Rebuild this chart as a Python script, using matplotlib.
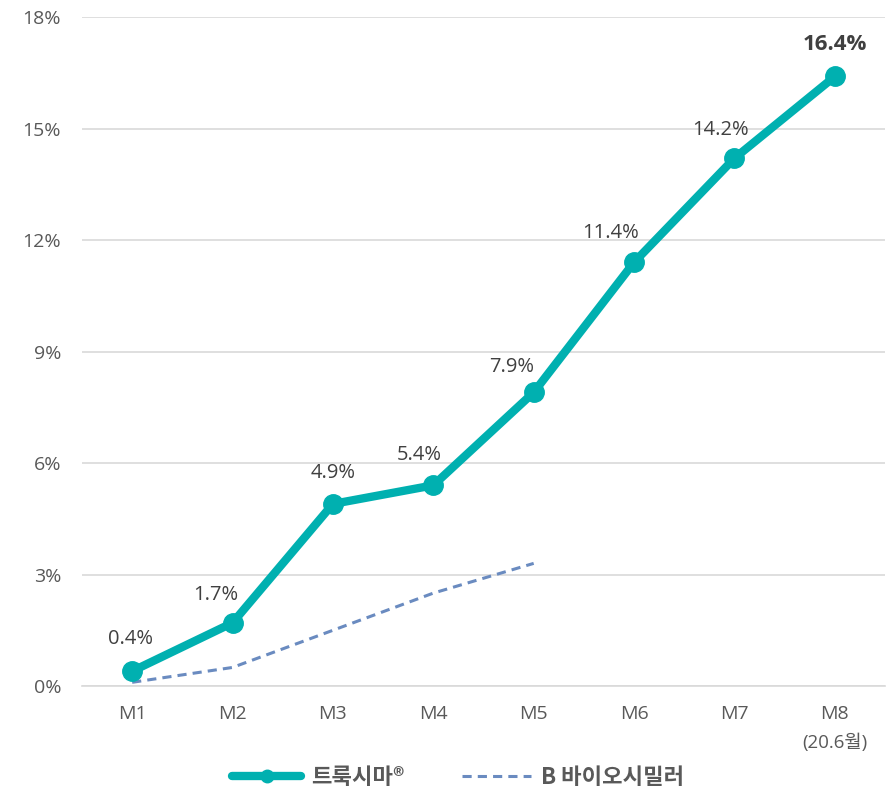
import numpy as np
import matplotlib.pyplot as plt
from matplotlib.lines import Line2D

plt.rcParams['font.family'] = ['Open Sans', 'Noto Sans CJK KR', 'DejaVu Sans']

# data
months = ["M1", "M2", "M3", "M4", "M5", "M6", "M7", "M8"]
m8_note = "(20.6월)"
truxima = [0.4, 1.7, 4.9, 5.4, 7.9, 11.4, 14.2, 16.4]
b_bio = [0.1, 0.5, 1.5, 2.5, 3.3]
y_ticks = [0, 3, 6, 9, 12, 15, 18]

# label nudges (points) so they sit like the original
nudge_x = [-1, -12, 0, -10, -16, -17, -10, 0]
nudge_y = [23, 20, 22, 22, 18, 21, 20, 23]

teal = "#00b0b0"
blue = "#6a8bc0"
grey = "#595959"

fig = plt.figure(figsize=(8.9, 7.92), dpi=100)
ax = fig.add_axes([0.0921, 0.1338, 0.9023, 0.8447])

x = np.arange(len(months))
ax.plot(x[:len(b_bio)], b_bio, color=blue, lw=2.2, ls=(0, (3, 2)), zorder=2)
ax.plot(x, truxima, color=teal, lw=6, marker="o", ms=14, zorder=3,
        solid_capstyle="round")

for i, v in enumerate(truxima):
    last = i == len(truxima) - 1
    ax.annotate(f"{v}%", (x[i], v), xytext=(nudge_x[i], nudge_y[i]),
                textcoords="offset points", ha="center", va="center",
                color="#404040", fontsize=16 if last else 14.5,
                fontweight="bold" if last else "normal")

ax.set_xlim(-0.5, 7.5)
ax.set_ylim(0, 18)
ax.set_yticks(y_ticks)
ax.set_yticklabels([f"{t}%" for t in y_ticks])
ax.set_xticks(x)
ax.set_xticklabels(months)
ax.yaxis.grid(True, color="#d9d9d9", lw=1.2)
ax.set_axisbelow(True)
for s in ["top", "right", "left"]:
    ax.spines[s].set_visible(False)
ax.spines["bottom"].set_color("#d9d9d9")
ax.spines["bottom"].set_linewidth(1.2)
ax.tick_params(length=0, labelsize=14, labelcolor=grey)
ax.tick_params(axis="x", pad=14)
ax.tick_params(axis="y", pad=15)

# smaller second line under M8
ax.annotate(m8_note, (x[-1], 0), xycoords=("data", "axes fraction"),
            xytext=(0, -41), textcoords="offset points", ha="center",
            va="center", fontsize=13.5, color=grey)

handles = [
    Line2D([], [], color=teal, lw=6, marker="o", ms=9, solid_capstyle="round"),
    Line2D([], [], color=blue, lw=2.2, ls=(0, (3, 2))),
]
fig.legend(handles, ["트룩시마®", "B 바이오시밀러"], loc="center",
           bbox_to_anchor=(0.515, 0.018), ncol=2, frameon=False,
           prop={"family": "Noto Sans CJK KR", "size": 16, "weight": "bold"},
           labelcolor=grey, handlelength=3.1, columnspacing=2.6,
           handletextpad=0.45)

fig.savefig("out.png", dpi=100)
